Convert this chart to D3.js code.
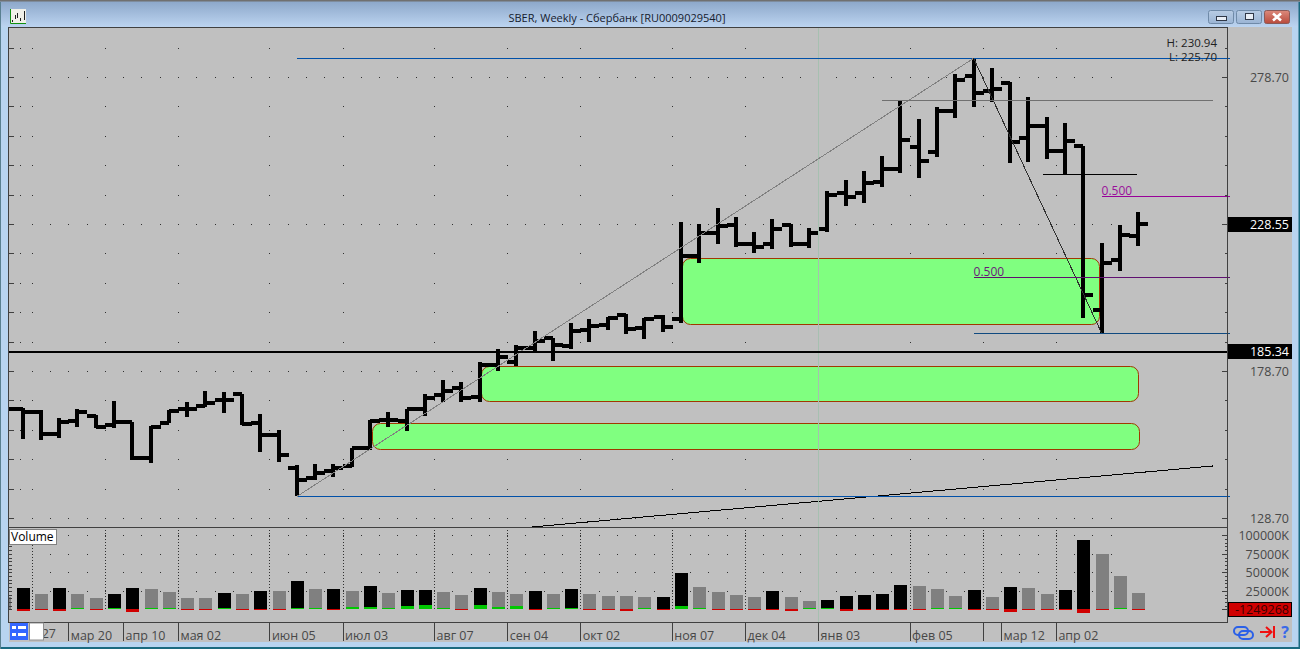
<!DOCTYPE html>
<html><head><meta charset="utf-8">
<script src="https://cdn.jsdelivr.net/npm/d3@7"></script>
<style>html,body{margin:0;padding:0;background:#b8d4f0;overflow:hidden}svg{display:block}text{font-family:"Open Sans",sans-serif}</style>
</head><body><svg id="c" width="1300" height="649"></svg>
<script>
// ---------- data ----------
const barIndex = d3.range(-1, 62);
const opens = [165.0,165.77,164.64,157.15,161.69,163.39,160.21,161.46,149.22,161.12,165.77,166.90,168.83,170.76,161.12,156.93,145.59,142.41,144.68,146.38,152.39,162.03,161.69,165.66,170.53,172.81,169.75,180.74,181.86,186.62,189.82,187.20,192.64,194.34,197.75,193.22,196.96,196.38,217.82,225.74,228.36,221.80,221.80,228.36,221.80,226.99,239.35,239.35,243.09,247.41,254.99,253.29,267.24,279.04,274.04,276.76,258.05,262.03,253.53,255.33,199.45,216.45,224.72];
const highs = [166.0,165.98,165.43,162.60,165.66,163.73,168.49,161.46,160.10,165.43,168.04,172.01,171.67,170.76,163.96,158.63,146.72,146.95,146.95,152.39,162.03,164.64,165.77,170.76,175.64,175.06,181.86,186.08,187.54,192.30,189.82,194.92,196.28,197.17,198.09,196.62,197.75,229.28,228.70,234.04,231.18,225.88,230.40,228.70,227.24,239.92,243.67,246.73,251.83,270.54,264.41,268.60,279.72,285.06,281.66,277.10,271.79,264.99,262.95,255.33,222.13,228.36,232.68];
const lows = [164.5,155.57,155.23,155.79,159.53,159.42,159.42,148.42,147.29,160.89,163.16,166.56,164.52,160.33,151.26,147.86,136.18,141.62,142.53,146.16,151.82,159.53,158.40,163.50,168.26,168.05,168.26,178.80,180.50,185.50,182.20,186.08,188.67,192.64,191.28,189.58,192.07,195.13,215.54,221.90,220.77,218.94,220.20,220.98,220.64,226.08,234.92,235.95,241.39,245.88,244.24,251.59,264.65,268.60,270.09,249.55,249.89,250.71,245.37,196.83,191.73,212.81,221.22];
const closes = [165.77,164.64,157.15,161.46,164.64,159.76,161.46,149.22,159.53,165.20,165.77,167.70,168.83,160.67,156.93,150.12,141.62,143.89,145.59,152.39,161.69,162.03,165.66,169.63,171.89,169.62,180.74,183.56,186.62,188.90,187.54,192.30,193.97,196.83,192.98,196.38,193.77,217.82,225.74,228.12,221.80,220.77,226.89,221.80,225.54,238.67,237.88,242.75,247.24,257.44,250.23,267.24,277.68,273.36,274.72,256.49,262.03,253.53,257.03,204.55,215.43,224.96,228.55];
const volumes = [17150,28800,20700,28800,20700,15300,20700,28800,27400,23400,15300,15300,22000,20700,24700,24700,38200,27400,27400,24700,31500,22600,26100,26100,23400,19300,28800,23400,20700,24700,20700,27400,20700,18000,18000,16600,16600,49000,30100,23400,19300,16600,24700,16600,11200,12600,18000,19300,20700,32800,31500,27400,18000,26100,16600,30100,28800,20700,26100,93600,74700,45000,22000];
const volumeDark = [0,1,0,1,0,0,1,1,0,0,0,0,1,0,1,0,1,0,1,0,1,0,1,1,0,0,1,0,0,1,0,1,0,0,0,0,1,1,0,0,0,0,1,0,0,1,1,1,1,1,0,0,0,1,0,1,0,0,1,1,0,0,0];
const volumeDelta = [-900,-1800,-900,-1800,2200,-900,2200,-3400,2200,2200,-900,-900,2200,-900,-900,-900,2200,2200,-900,3100,3100,2200,4500,5800,2200,-900,5800,3600,5000,-900,2200,2200,-900,-900,-2300,2200,-900,5000,2200,-900,-900,-900,-900,-2300,2200,2200,-2300,-900,-900,-900,-900,2200,2200,-900,-900,-3100,-900,-900,-900,-5000,-900,2200,-900];

const priceTickLabels = [278.70,178.70,128.70];
const volumeTickLabels = [100000,75000,50000,25000];
const majorGrid = [0.5,4.5,8.5,13.5,17.5,22.5,26.5,30.5,35.5,39.5,43.5,48.5,52.5,56.5];
const dateTicks = [2.5,5.5,8.5,13.5,17.5,22.5,26.5,30.5,35.5,39.5,43.5,48.5,52.5,53.5,56.5];
const dateLabels = ["мар 20","апр 10","мая 02","июн 05","июл 03","авг 07","сен 04","окт 02","ноя 07","дек 04","янв 03","фев 05","","мар 12","апр 02"];
const zoneFrom = [36.11,25.12,19.11];
const zoneTo = [58.9,61.03,61.03];
const zoneTop = [216.9,180.16,160.9];
const zoneBottom = [194.6,168.39,152.08];
const lastPrice = 228.55, markedPrice = 185.34, lastDelta = "-1249268";

// ---------- scales ----------
const x = d3.scaleLinear().domain([-1,61]).range([4.21,1138.2]);
const y = d3.scaleLinear().domain([128.7,278.7]).range([518,77]);
const v = d3.scaleLinear().domain([0,100000]).range([609.3,535.3]);
const svg = d3.select("#c");
const crisp = "crispEdges";
const line = (g,x1,y1,x2,y2,col,w)=>g.append("line").attr("x1",x1).attr("y1",y1).attr("x2",x2).attr("y2",y2).attr("stroke",col).attr("stroke-width",w||1).attr("shape-rendering",crisp);

// ---------- window chrome ----------
const defs = svg.append("defs");
const tg = defs.append("linearGradient").attr("id","tb").attr("x1",0).attr("x2",0).attr("y1",0).attr("y2",1);
tg.append("stop").attr("offset","0").attr("stop-color","#8aa5c8");
tg.append("stop").attr("offset","1").attr("stop-color","#bcd4f0");
const cg = defs.append("linearGradient").attr("id","cl").attr("x1",0).attr("x2",0).attr("y1",0).attr("y2",1);
cg.append("stop").attr("offset","0").attr("stop-color","#dc8a7c");
cg.append("stop").attr("offset","1").attr("stop-color","#b84a3c");
const bg = defs.append("linearGradient").attr("id","bt").attr("x1",0).attr("x2",0).attr("y1",0).attr("y2",1);
bg.append("stop").attr("offset","0").attr("stop-color","#b8cce4");
bg.append("stop").attr("offset","1").attr("stop-color","#9ab4d4");
defs.append("clipPath").attr("id","plot").append("rect").attr("x",9).attr("y",28).attr("width",1218).attr("height",499);
defs.append("clipPath").attr("id","volp").append("rect").attr("x",9).attr("y",528).attr("width",1218).attr("height",94);

const chrome = svg.append("g");
chrome.append("rect").attr("width",1300).attr("height",649).attr("fill","#b8d4f0");
chrome.append("rect").attr("width",1300).attr("height",27).attr("fill","url(#tb)");
chrome.append("rect").attr("width",1300).attr("height",1.5).attr("fill","#707070");
chrome.append("rect").attr("y",647).attr("width",1300).attr("height",2).attr("fill","#1a6a80");
chrome.append("rect").attr("x",0).attr("y",2).attr("width",1).attr("height",647).attr("fill","#5a8090");
chrome.append("rect").attr("x",1298.5).attr("y",2).attr("width",1.5).attr("height",647).attr("fill","#1a6a80");
chrome.append("rect").attr("x",9).attr("y",27).attr("width",1283).attr("height",615).attr("fill","#c0c0c0");

chrome.append("text").attr("x",617).attr("y",22).attr("text-anchor","middle").attr("font-size",11).attr("fill","#15202e")
  .text("SBER, Weekly - Сбербанк [RU0009029540]");

// top-left icon
chrome.append("rect").attr("x",10).attr("y",9).attr("width",16).attr("height",15).attr("fill","#f0f0e8");
chrome.append("path").attr("d","M10.5 9V23.5H26").attr("fill","none").attr("stroke","#109010").attr("stroke-width",1);
[[12,20,22],[15,15,19],[17,13,18],[20,18,21],[24,11,20]].forEach(a=>line(chrome,a[0],a[1],a[0],a[2],"#202020",1));

// window buttons
[[1208,26],[1236,26]].forEach(b=>chrome.append("rect").attr("x",b[0]+.5).attr("y",10.5).attr("width",b[1]-1).attr("height",13).attr("rx",2).attr("fill","url(#bt)").attr("stroke","#6f8aa8"));
chrome.append("rect").attr("x",1264.5).attr("y",10.5).attr("width",25).attr("height",13).attr("rx",2).attr("fill","url(#cl)").attr("stroke","#8a5a58");
chrome.append("rect").attr("x",1216.5).attr("y",16.5).attr("width",10).attr("height",4).attr("fill","#e8eef6").attr("stroke","#303848");
chrome.append("rect").attr("x",1245.5).attr("y",13.5).attr("width",8).attr("height",6).attr("fill","#e8eef6").attr("stroke","#303848");
chrome.append("path").attr("d","M1273 13.5L1281 20.5M1281 13.5L1273 20.5").attr("stroke","#ffffff").attr("stroke-width",2.6);

// ---------- grid dots ----------
const grid = svg.append("g").attr("shape-rendering",crisp);
const minorCols = d3.range(0,60).map(i=>i+0.5).filter(i=>i<=60.5);
const dot = (px,py)=>grid.append("rect").attr("x",Math.round(px)).attr("y",Math.round(py)).attr("width",1).attr("height",1).attr("fill","#303030");
const rows = d3.range(128.7,290,10);
rows.forEach((p,k)=>{
  const dense = k%5===0;
  (dense?minorCols:majorGrid).forEach(c=>dot(x(c),y(p)));
  if(!dense) dot(x(-0.1)-1,y(p));
});
volumeTickLabels.forEach(t=>minorCols.forEach(c=>dot(x(c),v(t))));
majorGrid.forEach(c=>line(grid,Math.round(x(c))+.5,530,Math.round(x(c))+.5,610,"#303030",1).attr("stroke-dasharray","1,2"));

// ---------- volume pane ----------
const vol = svg.append("g").attr("clip-path","url(#volp)").attr("shape-rendering",crisp);
vol.selectAll("rect.v").data(barIndex).join("rect").attr("class","v")
  .attr("x",(d)=>Math.round(x(d))-6).attr("width",13)
  .attr("y",(d,i)=>v(volumes[i])).attr("height",(d,i)=>v(0)-v(volumes[i]))
  .attr("fill",(d,i)=>volumeDark[i]?"#000000":"#808080");
vol.selectAll("rect.d").data(barIndex).join("rect").attr("class","d")
  .attr("x",(d)=>Math.round(x(d))-6).attr("width",13)
  .attr("y",(d,i)=>volumeDelta[i]>0?v(volumeDelta[i]):v(0))
  .attr("height",(d,i)=>Math.abs(v(volumeDelta[i])-v(0)))
  .attr("fill",(d,i)=>volumeDelta[i]>0?"#00c800":"#d00000");

// ---------- price pane ----------
const plot = svg.append("g").attr("clip-path","url(#plot)");
zoneFrom.forEach((f,i)=>{
  plot.append("rect").attr("x",Math.floor(x(f))+.5).attr("y",Math.floor(y(zoneTop[i]))+.5).attr("width",Math.round(x(zoneTo[i])-x(f))).attr("height",Math.round(y(zoneBottom[i])-y(zoneTop[i])))
   .attr("rx",8).attr("ry",8).attr("fill","#80ff80").attr("stroke","#a03800").attr("stroke-width",1);
});
// crosshair
svg.append("line").attr("x1",x(43.5)).attr("x2",x(43.5)).attr("y1",28).attr("y2",622).attr("stroke","#a6c0b0").attr("stroke-width",1).attr("shape-rendering",crisp);

const over = svg.append("g");
const seg = (i1,p1,i2,p2,col,w)=>line(over,i1===null?9:x(i1),y(p1),i2===null?1230:x(i2),y(p2),col,w);
seg(15,285.06,null,285.06,"#0050a8",1);
seg(15,136.01,null,136.01,"#0050a8",1);
seg(15,136.01,52,285.06,"#808080",1);
seg(52,285.06,59,191.6,"#303030",1);
seg(47,270.54,65.1,270.54,"#707070",1);
seg(55.8,245.37,60.95,245.37,"#000000",1);
seg(59,238.1,null,238.1,"#990099",1);
seg(52,210.57,null,210.57,"#601070",1);
seg(52,191.55,null,191.55,"#104a80",1);
plot.append("line").attr("x1",x(27.86)).attr("y1",y(125.65)).attr("x2",x(65.09)).attr("y2",y(146.4)).attr("stroke","#000").attr("stroke-width",1).attr("shape-rendering",crisp);
over.append("text").attr("x",x(59)).attr("y",y(238.1)-1.5).attr("font-size",12).attr("fill","#9a109a").text("0.500");
over.append("text").attr("x",x(52)).attr("y",y(210.57)-1.5).attr("font-size",12).attr("fill","#6a1a7a").text("0.500");

// OHLC bars
const bars = plot.append("g").attr("shape-rendering",crisp);
barIndex.forEach((d,i)=>{
  const cx = Math.round(x(d));
  bars.append("rect").attr("x",cx-2).attr("width",4).attr("y",y(highs[i])).attr("height",y(lows[i])-y(highs[i])).attr("fill","#000");
  bars.append("rect").attr("x",cx-9).attr("width",9).attr("y",Math.round(y(opens[i]))-2).attr("height",4).attr("fill","#000");
  bars.append("rect").attr("x",cx).attr("width",10).attr("y",Math.round(y(closes[i]))-2).attr("height",4).attr("fill","#000");
});
svg.append("line").attr("x1",9).attr("x2",1228).attr("y1",y(markedPrice)+.5).attr("y2",y(markedPrice)+.5).attr("stroke","#000").attr("stroke-width",2).attr("shape-rendering",crisp);

// ---------- frame, axes ----------
const frame = svg.append("g").attr("fill","none").attr("stroke","#404040").attr("shape-rendering",crisp);
frame.append("rect").attr("x",8.5).attr("y",27.5).attr("width",1219).attr("height",595);
frame.append("line").attr("x1",9).attr("x2",1228).attr("y1",527.5).attr("y2",527.5);

const styleAxis = g=>{g.select(".domain").remove();g.selectAll("line").attr("stroke","#404040").attr("shape-rendering",crisp);};
const rightAxis = (scale,values,size)=>d3.axisLeft(scale).tickValues(values).tickSize(size).tickFormat("");
const leftAxis = (scale,values,size)=>d3.axisRight(scale).tickValues(values).tickSize(size).tickFormat("");
const pMajor = rows.filter((p,k)=>k%5===0), pMinor = rows;
const vMinor = d3.range(0,100001,5000);
svg.append("g").attr("transform","translate(1228,0)").call(rightAxis(y,pMinor,3)).call(styleAxis);
svg.append("g").attr("transform","translate(1228,0)").call(rightAxis(y,pMajor,6)).call(styleAxis);
svg.append("g").attr("transform","translate(9,0)").call(leftAxis(y,pMinor,5)).call(styleAxis);
svg.append("g").attr("transform","translate(1228,0)").call(rightAxis(v,vMinor,3)).call(styleAxis);
svg.append("g").attr("transform","translate(1228,0)").call(rightAxis(v,[0].concat(volumeTickLabels),6)).call(styleAxis);
svg.append("g").attr("transform","translate(9,0)").call(leftAxis(v,vMinor,3)).call(styleAxis);

const labelAxis = (scale,values,fmt)=>d3.axisLeft(scale).tickValues(values).tickSize(0).tickPadding(0).tickFormat(fmt);
svg.append("g").attr("transform","translate(1289,0)").call(labelAxis(y,priceTickLabels,d3.format(".2f")))
  .call(g=>{g.select(".domain").remove();g.selectAll("text").attr("font-family",'"Open Sans"').attr("font-size",12.5).attr("fill","#484848").attr("dy","0.35em");});
svg.append("g").attr("transform","translate(1289,0)").call(labelAxis(v,volumeTickLabels,d=>d+"K"))
  .call(g=>{g.select(".domain").remove();g.selectAll("text").attr("font-family",'"Open Sans"').attr("font-size",12.5).attr("fill","#484848").attr("dy","0.35em");});

// value flags
[lastPrice,markedPrice].forEach(p=>{
  const cy = y(p);
  svg.append("rect").attr("x",1228).attr("y",Math.round(cy)-7).attr("width",64).attr("height",15).attr("fill","#000").attr("shape-rendering",crisp);
  svg.append("text").attr("x",1289).attr("y",cy+4.5).attr("text-anchor","end").attr("font-size",12.5).attr("fill","#fff").text(p.toFixed(2));
});
svg.append("rect").attr("x",1228.5).attr("y",602.5).attr("width",63).attr("height",14).attr("fill","#d00000").attr("stroke","#000").attr("shape-rendering",crisp);
svg.append("text").attr("x",1289).attr("y",614).attr("text-anchor","end").attr("font-size",12.5).attr("fill","#3a0000").text(lastDelta);

// H / L readout
svg.append("text").attr("x",1217).attr("y",47).attr("text-anchor","end").attr("font-size",11.5).attr("fill","#202020").text("H: 230.94");
svg.append("text").attr("x",1217).attr("y",61).attr("text-anchor","end").attr("font-size",11.5).attr("fill","#202020").text("L: 225.70");

// volume tag
svg.append("rect").attr("x",9.5).attr("y",529.5).attr("width",47).attr("height",15).attr("fill","#fff").attr("stroke","#808080").attr("shape-rendering",crisp);
svg.append("text").attr("x",11).attr("y",541).attr("font-size",12).attr("fill","#000").text("Volume");

// ---------- date strip ----------
const dateScale = d3.axisBottom(x).tickValues(dateTicks).tickSize(19).tickFormat((d,i)=>dateLabels[i]);
svg.append("g").attr("transform","translate(0,622)").call(dateScale).call(g=>{
  g.select(".domain").remove();
  g.selectAll("line").attr("stroke","#404040").attr("shape-rendering",crisp);
  g.selectAll("text").attr("font-family",'"Open Sans"').attr("font-size",12.5).attr("fill","#484848").attr("text-anchor","start").attr("dx",2).attr("y",7).attr("dy","0.9em");
});
svg.append("text").attr("x",56).attr("y",638).attr("text-anchor","end").attr("font-size",12.5).attr("fill","#484848").text("27");

// bottom-left icons
svg.append("rect").attr("x",10).attr("y",623).attr("width",18).attr("height",17).attr("fill","#3366ff");
[[12,626,4,3],[18,626,8,3],[12,633,4,3],[18,633,8,3]].forEach(a=>svg.append("rect").attr("x",a[0]).attr("y",a[1]).attr("width",a[2]).attr("height",a[3]).attr("fill","#fff"));
svg.append("rect").attr("x",29.5).attr("y",623).attr("width",14).attr("height",17).attr("fill","#fff").attr("stroke","#909090");

// bottom-right icons
svg.append("rect").attr("x",1234).attr("y",627).attr("width",14).attr("height",8).attr("rx",4).attr("fill","none").attr("stroke","#2a60e8").attr("stroke-width",2);
svg.append("rect").attr("x",1239).attr("y",631).attr("width",14).attr("height",8).attr("rx",4).attr("fill","none").attr("stroke","#2a60e8").attr("stroke-width",2);
svg.append("path").attr("d","M1260 632H1271M1266 627L1271.5 632L1266 637M1274 626V638").attr("fill","none").attr("stroke","#f01010").attr("stroke-width",2);
svg.append("text").attr("x",1285).attr("y",638).attr("text-anchor","middle").attr("font-size",16).attr("font-weight","bold").attr("fill","#3a6ae8").text("?");
</script></body></html>
